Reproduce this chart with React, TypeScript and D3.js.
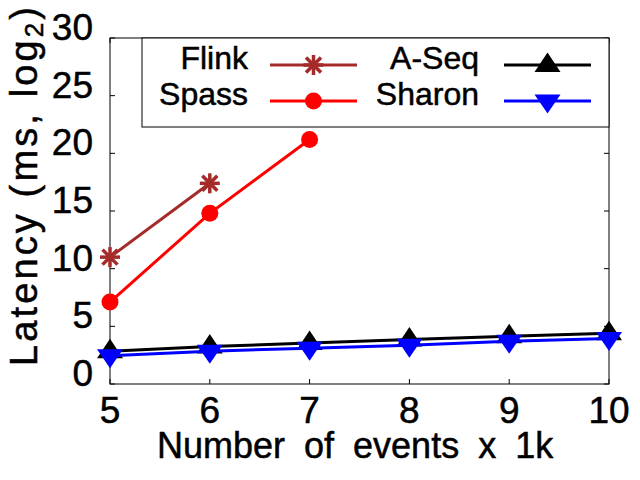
import React from "react";
import * as d3 from "d3";

const xValues = [5, 6, 7, 8, 9, 10];
const flink = [11.0, 17.4];
const spass = [7.1, 14.8, 21.2];
const aseq = [2.85, 3.25, 3.55, 3.85, 4.15, 4.4];
const sharon = [2.45, 2.85, 3.1, 3.35, 3.7, 3.95];
const yTicks = [0, 5, 10, 15, 20, 25, 30];
const xTicks = [5, 6, 7, 8, 9, 10];

const W = 640, H = 480;
const L = 110, R = 609, T = 38, B = 384;
const FONT = "'Liberation Sans', Arial, Helvetica, sans-serif";

type MarkerKind = "star" | "circle" | "up" | "down";

function Marker({ kind, x, y, color }: { kind: MarkerKind; x: number; y: number; color: string }) {
  if (kind === "circle") return <circle cx={x} cy={y} r={8.5} fill={color} />;
  if (kind === "star") {
    const s = 10;
    const d = 7.5;
    return (
      <g stroke={color} strokeWidth={3.5}>
        <line x1={x - s} y1={y} x2={x + s} y2={y} />
        <line x1={x} y1={y - s} x2={x} y2={y + s} />
        <line x1={x - d} y1={y - d} x2={x + d} y2={y + d} />
        <line x1={x - d} y1={y + d} x2={x + d} y2={y - d} />
      </g>
    );
  }
  if (kind === "up")
    return <path d={`M${x},${y - 12.5}L${x + 13},${y + 7}L${x - 13},${y + 7}Z`} fill={color} />;
  return <path d={`M${x},${y + 12.5}L${x + 13},${y - 6.5}L${x - 13},${y - 6.5}Z`} fill={color} />;
}

export default function App() {
  const x = d3.scaleLinear().domain([5, 10]).range([L, R]);
  const y = d3.scaleLinear().domain([0, 30]).range([B, T]);
  const line = d3
    .line<[number, number]>()
    .x((d) => x(d[0]))
    .y((d) => y(d[1]));

  const series: { name: string; vals: number[]; color: string; kind: MarkerKind }[] = [
    { name: "Flink", vals: flink, color: "#a52a2a", kind: "star" },
    { name: "Spass", vals: spass, color: "#ff0000", kind: "circle" },
    { name: "A-Seq", vals: aseq, color: "#000000", kind: "up" },
    { name: "Sharon", vals: sharon, color: "#0000ff", kind: "down" },
  ];

  const legend = [
    { s: series[0], tx: 248, ly: 65, x1: 270, x2: 357 },
    { s: series[1], tx: 248, ly: 101, x1: 270, x2: 357 },
    { s: series[2], tx: 479, ly: 65, x1: 504, x2: 591 },
    { s: series[3], tx: 479, ly: 101, x1: 504, x2: 591 },
  ];

  const textStroke = { stroke: "#000", strokeWidth: 0.5 };

  return (
    <svg
      width={W}
      height={H}
      style={{ position: "fixed", left: 0, top: 0, background: "#fff" }}
      fontFamily={FONT}
    >
      <rect x={0} y={0} width={W} height={H} fill="#fff" />
      {/* ticks */}
      {yTicks.map((t) => (
        <g key={"y" + t}>
          <line x1={L} x2={L + 5} y1={y(t)} y2={y(t)} stroke="#000" />
          <line x1={R - 5} x2={R} y1={y(t)} y2={y(t)} stroke="#000" />
          <text x={93} y={y(t) + 2} textAnchor="end" fontSize={37} {...textStroke}>
            {t}
          </text>
        </g>
      ))}
      {xTicks.map((t) => (
        <g key={"x" + t}>
          <line x1={x(t)} x2={x(t)} y1={B} y2={B - 5} stroke="#000" />
          <line x1={x(t)} x2={x(t)} y1={T} y2={T + 5} stroke="#000" />
          <text x={x(t)} y={423} textAnchor="middle" fontSize={37} {...textStroke}>
            {t}
          </text>
        </g>
      ))}
      <rect x={L} y={T} width={R - L} height={B - T} fill="none" stroke="#000" strokeWidth={1} />
      {/* axis labels */}
      <text x={157} y={458} fontSize={36} wordSpacing={9} {...textStroke}>
        Number of events x 1k
      </text>
      <text
        transform="translate(37,366) rotate(-90)"
        fontSize={38}
        textLength={359}
        lengthAdjust="spacing"
        {...textStroke}
      >
        Latency (ms, log
        <tspan fontSize={26} dy={6}>
          2
        </tspan>
        <tspan dy={-6}>)</tspan>
      </text>
      {/* data */}
      {series.map((s) => (
        <g key={s.name}>
          <path
            d={line(s.vals.map((v, i) => [xValues[i], v] as [number, number])) || ""}
            fill="none"
            stroke={s.color}
            strokeWidth={3}
          />
          {s.vals.map((v, i) => (
            <Marker key={i} kind={s.kind} x={x(xValues[i])} y={y(v)} color={s.color} />
          ))}
        </g>
      ))}
      {/* legend */}
      <rect x={142} y={T} width={R - 142} height={89} fill="#fff" stroke="#000" strokeWidth={1} />
      {legend.map((l) => (
        <g key={"lg" + l.s.name}>
          <text x={l.tx} y={l.ly + 4} textAnchor="end" fontSize={32} {...textStroke}>
            {l.s.name}
          </text>
          <line x1={l.x1} x2={l.x2} y1={l.ly} y2={l.ly} stroke={l.s.color} strokeWidth={3} />
          <Marker kind={l.s.kind} x={(l.x1 + l.x2) / 2} y={l.ly} color={l.s.color} />
        </g>
      ))}
    </svg>
  );
}
